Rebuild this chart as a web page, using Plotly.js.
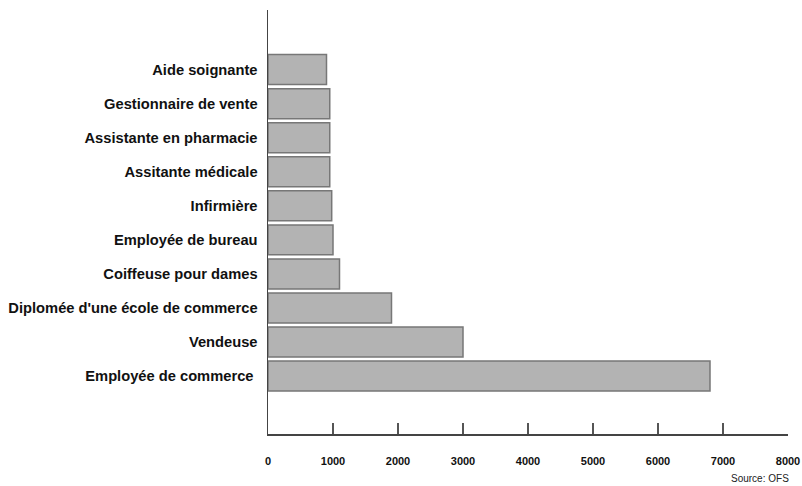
<!DOCTYPE html>
<html>
<head>
<meta charset="utf-8">
<script src="https://cdn.plot.ly/plotly-3.0.1.min.js"></script>
<style>html,body{margin:0;padding:0;background:#fff;}#chart{width:802px;height:486px;}</style>
</head>
<body>
<div id="chart"></div>
<script>
// Categories from bottom to top
const categories = [
  "Employée de commerce ",
  "Vendeuse",
  "Diplomée d'une école de commerce",
  "Coiffeuse pour dames",
  "Employée de bureau",
  "Infirmière",
  "Assitante médicale",
  "Assistante en pharmacie",
  "Gestionnaire de vente",
  "Aide soignante"
];
const values = [6800, 3000, 1900, 1100, 1000, 980, 950, 950, 950, 900];
const xTicks = [0, 1000, 2000, 3000, 4000, 5000, 6000, 7000, 8000];
const sourceText = "Source: OFS";

const trace = {
  type: "bar",
  orientation: "h",
  x: values,
  y: categories,
  marker: {color: "#b3b3b3", line: {color: "#777777", width: 1.5}},
  hoverinfo: "x+y"
};

const layout = {
  width: 802,
  height: 486,
  margin: {l: 268, r: 14, t: 10, b: 52},
  paper_bgcolor: "#ffffff",
  plot_bgcolor: "#ffffff",
  showlegend: false,
  bargap: 0.12,
  font: {family: "Liberation Sans, Arial, sans-serif", color: "#111"},
  xaxis: {
    range: [0, 8000],
    tickvals: xTicks,
    ticktext: xTicks.map(String),
    ticks: "inside",
    ticklen: 11,
    tickwidth: 1.5,
    tickcolor: "#555",
    showline: true,
    linecolor: "#444",
    linewidth: 1.5,
    showgrid: false,
    zeroline: false,
    ticklabelstandoff: 16,
    tickfont: {size: 11, family: "Liberation Sans, Arial, sans-serif", weight: "bold", color: "#111"},
    fixedrange: true
  },
  yaxis: {
    type: "category",
    range: [-1.7, 10.75],
    showline: true,
    linecolor: "#444",
    linewidth: 1.5,
    showgrid: false,
    zeroline: false,
    ticks: "",
    ticklabelstandoff: 6,
    tickfont: {size: 14.7, family: "Liberation Sans, Arial, sans-serif", weight: "bold", color: "#111"},
    fixedrange: true
  },
  annotations: [{
    text: sourceText,
    xref: "paper", yref: "paper",
    x: 1.005, y: -0.105,
    xanchor: "right", yanchor: "middle",
    showarrow: false,
    font: {size: 10, family: "Liberation Sans, Arial, sans-serif", color: "#222"}
  }]
};

Plotly.newPlot("chart", [trace], layout, {displayModeBar: false, staticPlot: true});
</script>
</body>
</html>
